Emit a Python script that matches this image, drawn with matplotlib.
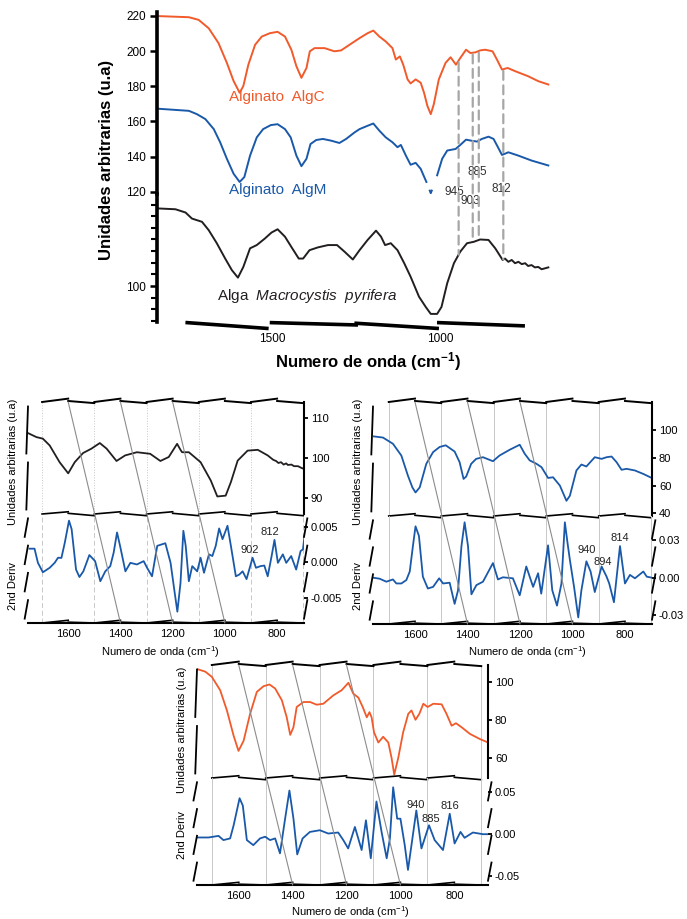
import numpy as np
import matplotlib

matplotlib.use("Agg")
import matplotlib.pyplot as plt
from matplotlib.patches import ConnectionPatch
from matplotlib.ticker import FormatStrFormatter

plt.rcParams["font.family"] = ["Liberation Sans", "DejaVu Sans"]
plt.rcParams["mathtext.fontset"] = "custom"
plt.rcParams["mathtext.rm"] = "Liberation Sans"
plt.rcParams["mathtext.it"] = "Liberation Sans:italic"
plt.rcParams["mathtext.bf"] = "Liberation Sans:bold"
plt.rcParams["axes.unicode_minus"] = False

W, H = 687, 919
RED = "#f15a2b"
BLUE = "#1a59a9"
BLACK = "#231f20"
GRID = "#c8c8c8"
DIAG = "#8c8c8c"
nan = np.nan

# --------------------------------------------------------------------------- #
# Data
# --------------------------------------------------------------------------- #
# top overview panel
top_red_wn = [1847, 1748, 1719, 1689, 1660, 1635, 1615, 1597, 1586, 1571, 1551, 1531, 1507, 1484,
              1462, 1443, 1428, 1413, 1398, 1388, 1374, 1344, 1315, 1295, 1270, 1240, 1216, 1199,
              1181, 1162, 1142, 1132, 1120, 1110, 1097, 1088, 1073, 1058, 1048, 1038, 1028, 1019,
              1004, 984, 969, 953, 940, 923, 910, 895, 881, 866, 844, 831, 816, 799, 777, 738,
              708, 678]
top_red = [220, 219.3, 217.8, 213, 204.6, 193.3, 183, 176.3, 180.1, 192.3, 203.6, 208.3, 210.2, 211,
           208.3, 200.8, 191.4, 184.8, 190.4, 199.9, 201.7, 201.7, 199.9, 200.4, 203.6, 207.4, 210.2,
           211.7, 208.3, 205.5, 201.7, 195.2, 197, 192.3, 183.9, 181.6, 183.9, 182, 176.3, 168.8,
           164.1, 169.7, 183.9, 193.3, 196.5, 192.3, 196.1, 200.8, 198.9, 199.3, 200.4, 200.8,
           199.9, 195.2, 189.5, 190.4, 188.6, 185.7, 182.9, 181]

# the AlgM trace is interrupted around 1035 cm-1 in the original figure
top_blue_wn = [1847, 1748, 1724, 1699, 1674, 1655, 1635, 1615, 1597, 1583, 1566, 1546, 1527, 1504,
               1484, 1462, 1445, 1428, 1413, 1398, 1386, 1369, 1349, 1324, 1300, 1280, 1255, 1240,
               1216, 1199, 1181, 1162, 1142, 1127, 1117, 1102, 1088, 1073, 1058, 1041, 1036, 1031,
               1028, 1025, 1016, 1009, 994, 979, 954, 940, 923, 907, 890, 876, 856, 841, 828, 816,
               797, 767, 728, 678]
top_blue = [167.3, 166, 164.1, 161.3, 155.6, 148.1, 138.7, 130.2, 125.5, 128.3, 140.5, 150.9, 155.6,
            157.9, 158.4, 155.6, 150.9, 140.5, 134.5, 138.7, 147.1, 149.4, 150, 149, 147.7, 150,
            153.7, 155.6, 157.5, 158.8, 154.7, 150.9, 148.1, 145.3, 146.6, 140.5, 135.3, 136.4, 133,
            125.5, nan, 120.6, 119.1, 120.6, nan, 129.3, 138.7, 143.4, 144.3, 146.6, 149.6, 149,
            148.5, 150, 151.3, 150, 145.3, 140.9, 142.4, 140.5, 137.7, 134.9]

top_black_wn = [1847, 1788, 1758, 1739, 1709, 1689, 1665, 1640, 1620, 1602, 1586, 1566, 1546, 1522,
                1502, 1484, 1462, 1443, 1421, 1408, 1389, 1364, 1334, 1307, 1285, 1260, 1240, 1216,
                1191, 1176, 1164, 1147, 1127, 1107, 1088, 1063, 1043, 1028, 1009, 996, 979, 959, 940,
                920, 900, 881, 856, 836, 814, 807, 797, 787, 777, 767, 757, 747, 738, 728, 718, 708,
                698, 688, 678]
top_black = [116.7, 116.5, 115.8, 114.5, 113.8, 112, 109.2, 105.9, 103.4, 101.8, 104.1, 108.1, 108.8,
             110.2, 111.5, 112.2, 110.6, 108.4, 105.9, 105.9, 107.7, 108.3, 108.8, 108.8, 107.4,
             105.7, 107.7, 109.9, 111.9, 110.6, 108.8, 109.2, 107.7, 104.9, 102, 97.7, 95.5, 94, 94,
             95.5, 100.6, 104.9, 107.4, 109.2, 109.5, 110, 109.9, 108.1, 105.6, 105.9, 105.2, 105.6,
             104.9, 105.2, 104.7, 104.9, 104.3, 104.5, 104, 104.1, 103.6, 103.8, 104]

top_peaks = [945, 903, 885, 812]

# alga panel (left)
alga_wn = [1754, 1722, 1697, 1671, 1633, 1600, 1575, 1543, 1511, 1479, 1453, 1415, 1382, 1337, 1286,
           1247, 1215, 1183, 1170, 1164, 1138, 1093, 1054, 1029, 997, 977, 951, 913, 874, 836, 815,
           804, 795, 785, 775, 765, 759, 745, 735, 720, 708, 697]
alga = [106.2, 105.2, 104.8, 103.1, 98.9, 96.1, 98.9, 101.2, 102.3, 103.7, 102.3, 99.2, 100.6, 101.4,
        101, 99.2, 100.2, 103.5, 102, 101.4, 101.4, 98.9, 94.3, 90.3, 90.5, 93.9, 99.3, 101.8, 102,
        100.6, 99.5, 99.2, 98.7, 98.9, 98.3, 98.6, 98.2, 98.3, 97.9, 97.9, 97.5, 97.2]
alga_d2_wn = [1748, 1729, 1716, 1697, 1671, 1652, 1639, 1626, 1613, 1597, 1587, 1570, 1557, 1542, 1519,
              1497, 1477, 1458, 1439, 1426, 1413, 1400, 1381, 1362, 1337, 1311, 1298, 1279, 1259, 1228,
              1208, 1192, 1182, 1170, 1159, 1150, 1138, 1125, 1106, 1093, 1080, 1061, 1048, 1035, 1022,
              1009, 990, 977, 958, 945, 932, 917, 894, 881, 864, 849, 836, 821, 810, 797, 778, 765,
              746, 727, 710, 701, 695]
alga_d2 = [1.9, 1.9, -0.1, -1.43, -0.8, -0.1, 0.62, 0.6, 2.76, 5.86, 4.67, -1.05, -2.1, -1.3, 1.0,
           0.14, -2.7, -1.3, -0.57, 1.33, 4.19, 2.05, -1.3, -0.1, -0.33, 0.14, -0.8, -2.0, 2.3, 2.67,
           -0.1, -4.38, -7.0, -2.95, 4.43, 2.28, -2.7, -0.57, -1.3, 0.62, -1.5, 1.1, 0.86, 2.3, 4.76,
           3.24, 5.14, 2.3, -2.0, -1.76, -1.3, -2.4, 0.62, -0.8, -0.57, -0.48, -2.0, 0.86, 3.14, -0.1,
           1.1, -0.1, 0.86, -1.05, 1.57, 1.8, 3.7]
alga_peaks = [(904, 1.67, "902"), (827, 4.24, "812")]

# AlgM panel (right)
algm_wn = [1760, 1722, 1684, 1652, 1627, 1610, 1598, 1582, 1557, 1531, 1506, 1483, 1449, 1430, 1415,
           1405, 1386, 1367, 1341, 1303, 1278, 1239, 1201, 1182, 1163, 1137, 1118, 1093, 1074, 1048,
           1023, 1010, 985, 966, 947, 915, 889, 870, 851, 832, 813, 794, 762, 730, 698]
algm = [95.6, 94.7, 90.2, 81.7, 67.2, 58.7, 55, 58.7, 75.7, 84.2, 87.9, 89.1, 84.6, 76.9, 64.8,
        66.5, 75.7, 79.3, 80.5, 77.6, 81.7, 85.9, 89.5, 83, 78.2, 75.7, 73.3, 65.5, 66, 60,
        49, 52.6, 70.9, 75.2, 73.8, 80.5, 79.3, 80.5, 81, 76.9, 71.4, 72.1, 70.9, 68.4, 65.5]
algm_d2_wn = [1760, 1735, 1709, 1684, 1671, 1652, 1633, 1620, 1608, 1598, 1585, 1570, 1551, 1531,
              1508, 1493, 1468, 1449, 1436, 1423, 1411, 1398, 1385, 1366, 1341, 1303, 1284, 1265,
              1227, 1201, 1176, 1150, 1131, 1119, 1093, 1077, 1059, 1042, 1029, 1019, 1010, 994,
              978, 966, 947, 931, 915, 889, 870, 860, 842, 819, 800, 781, 762, 730, 717, 698]
algm_d2 = [0, -0.8, -3.2, -1.4, -4.6, -4.6, -1.9, 4.9, 25, 40.8, 33.2, 0.8, -8.6, -7.3,
           -0.5, -4.6, -4, -20.8, -10, 25.1, 44, 25.1, -13.2, -5.9, -3.2, 11.6, -1.4, 0.3,
           -0.5, -14, 8.9, -7.3, 3.5, -12.7, 25.7, -10, -22.2, -4.6, 44, 27.8, 14.3, -7.3,
           -31.6, -10, 13, 4.9, -11.4, 8.9, 0.8, -4.6, -19.5, 25.1, -4.6, 2.2, -0.5, 4.9, 0.8, 0]
algm_peaks = [(945, 21.7, "940"), (884, 12.8, "894"), (819, 31.5, "814")]

# AlgC panel (bottom)
algc_wn = [1755, 1724, 1700, 1669, 1644, 1619, 1601, 1582, 1558, 1533, 1508, 1486, 1465, 1440, 1422,
           1409, 1397, 1385, 1360, 1335, 1311, 1286, 1249, 1218, 1193, 1175, 1156, 1140, 1125, 1115,
           1107, 1098, 1082, 1064, 1045, 1033, 1023, 1008, 990, 971, 959, 944, 930, 915, 899, 878,
           847, 829, 810, 794, 773, 742, 705, 675]
algc = [106.7, 105.3, 102.6, 95.6, 85, 71.7, 63.8, 69.1, 83.2, 94.7, 97.7, 98.6, 96.5, 90.3, 81.4,
        72.2, 76.2, 86.8, 89.4, 89.4, 88, 88.5, 92.9, 95.6, 99.5, 93.8, 91.7, 86.8, 81.4, 84.1,
        81.4, 73.5, 68.2, 71.2, 68.2, 60.2, 51.4, 60.2, 73.5, 83.2, 85, 80.1, 83.2, 88.5, 86.8, 88.5,
        88.2, 83.2, 77, 78.3, 76.2, 72.7, 70, 68.2]
algc_d2_wn = [1755, 1712, 1675, 1657, 1632, 1619, 1597, 1585, 1570, 1546, 1521, 1502, 1484, 1465,
              1447, 1428, 1412, 1397, 1383, 1363, 1336, 1299, 1268, 1231, 1212, 1194, 1169, 1144,
              1128, 1110, 1089, 1070, 1051, 1039, 1027, 1012, 1000, 984, 972, 959, 941, 922, 894,
              873, 842, 817, 799, 777, 762, 731, 694, 675]
algc_d2 = [-3.9, -3.9, -2, -7, -5, 10.6, 42.7, 34, -7, -13, -5, -3, -7, -5,
           -22.7, 18.4, 51.8, 18.4, -24, -5, 2.7, 4.7, 0.8, 2, -7, -16.9, 8.6, -18.8,
           16.5, -28.6, 38.8, 2.7, -28.6, -5, 55.7, 18.4, 18.4, -13, -42.4, -13, 28.2, -16.9, 10.6,
           -7, -18.8, 24.3, -11, 2.7, -4.3, 2, 0, 0]
algc_peaks = [(943, 34.1, "940"), (886, 18.5, "885"), (816, 32.9, "816")]

grid_wn = [1700, 1500, 1300, 1100, 900, 700]
xtick_wn = [1600, 1400, 1200, 1000, 800]
diag_pairs = [(1600, 1400), (1400, 1200), (1200, 1000)]


# --------------------------------------------------------------------------- #
# Helpers
# --------------------------------------------------------------------------- #
fig = plt.figure(figsize=(W / 100, H / 100), dpi=100)


def box(l, t, r, b):
    return fig.add_axes([l / W, 1 - b / H, (r - l) / W, (b - t) / H])


def ftext(x, y, s, **kw):
    return fig.text(x / W, 1 - y / H, s, **kw)


def jag(ax, y0, up, down, lw=1.4):
    """sawtooth frame pieces between the grid lines (axes-fraction y)."""
    tr = ax.get_xaxis_transform()
    for i in range(len(grid_wn) * 2 - 2):
        a = grid_wn[0] - 100 * i
        b = a - 100
        if i % 2 == 0:
            ax.plot([a, b], [y0, y0 + up], color="black", lw=lw, transform=tr, clip_on=False)
        else:
            ax.plot([a, b], [y0 + up * 0.3, y0 - down], color="black", lw=lw, transform=tr,
                    clip_on=False)


def side_pieces(ax, x, n=4, dx=0.012):
    for i in range(n):
        y0 = i / n + 0.04
        y1 = (i + 1) / n - 0.04
        ax.plot([x - dx, x], [y0, y1], color="black", lw=1.3, transform=ax.transAxes,
                clip_on=False)


def small_panel(l, r, t, m, b, xlim, wn, spec, color, ylim, yticks, yfmt,
                dwn, d2, dylim, dticks, dfmt, peaks, dashed):
    ax = box(l, t, r, m)
    axd = box(l, m, r, b)
    for a in (ax, axd):
        a.set_xlim(*xlim)
        a.set_facecolor("none")
        for s in ("top", "bottom", "left"):
            a.spines[s].set_visible(False)
        a.yaxis.tick_right()
        a.tick_params(axis="y", labelsize=8, length=3, width=1.3, pad=2, direction="out")
    ls_top = ":" if dashed else "-"
    ls_bot = (0, (5, 3)) if dashed else "-"
    for g in grid_wn:
        ax.axvline(g, color=GRID, lw=0.7, ls=ls_top, zorder=0)
        axd.axvline(g, color=GRID, lw=0.7, ls=ls_bot, zorder=0)

    ax.plot(wn, spec, color=color, lw=1.3)
    ax.set_ylim(*ylim)
    ax.set_yticks(yticks)
    ax.yaxis.set_major_formatter(FormatStrFormatter(yfmt))
    ax.set_xticks([])
    ax.spines["right"].set_linewidth(1.5)
    side_pieces(ax, 0.0, n=2, dx=0.006)

    axd.plot(dwn, np.array(d2) * 1e-3, color=BLUE, lw=1.3)
    axd.set_ylim(*dylim)
    axd.set_yticks(dticks)
    axd.yaxis.set_major_formatter(FormatStrFormatter(dfmt))
    axd.spines["right"].set_visible(False)
    axd.spines["bottom"].set_visible(True)
    axd.spines["bottom"].set_linewidth(1.5)
    axd.set_xticks(xtick_wn)
    axd.tick_params(axis="x", length=0, labelsize=8, pad=4)
    for x, y, s in peaks:
        axd.text(x, y * 1e-3, s, fontsize=8, ha="center", va="center", color="#222222")

    # broken frame pieces
    jag(ax, 1.0, 0.03, 0.01)
    jag(ax, 0.0, 0.02, 0.015, lw=1.2)
    jag(axd, 0.0, 0.025, 0.0, lw=1.2)
    side_pieces(axd, 0.0)
    side_pieces(axd, 1.0 + 0.012)

    for x_top, x_bot in diag_pairs:
        con = ConnectionPatch(xyA=(x_top, 1), coordsA=ax.get_xaxis_transform(),
                              xyB=(x_bot, 0), coordsB=axd.get_xaxis_transform(),
                              color=DIAG, lw=0.8, zorder=1)
        fig.add_artist(con)
    return ax, axd


# --------------------------------------------------------------------------- #
# Top overview panel
# --------------------------------------------------------------------------- #
ax_hi = box(157, 11.6, 550, 194.1)
ax_lo = box(157, 194.1, 550, 322)
for a in (ax_hi, ax_lo):
    a.set_xlim(1843, 673)
    a.set_facecolor("none")
    for s in ("top", "right", "bottom"):
        a.spines[s].set_visible(False)
    a.spines["left"].set_linewidth(2.6)
    a.tick_params(axis="y", direction="out", length=5, width=1.8, labelsize=8.5, pad=3)
ax_hi.set_xticks([])
ax_hi.set_ylim(118.6, 222.5)
ax_hi.set_yticks([120, 140, 160, 180, 200, 220])
ax_lo.set_ylim(92.26, 119.76)
ax_lo.set_yticks([100])
ax_lo.set_yticks(np.arange(92.5, 119, 2.5), minor=True)
ax_lo.tick_params(axis="y", which="minor", length=4, width=1.5)
ax_lo.set_xticks([1500, 1000])
ax_lo.tick_params(axis="x", length=0, labelsize=8.5, pad=8)

ax_hi.plot(top_red_wn, top_red, color=RED, lw=1.4)
ax_hi.plot(top_blue_wn, top_blue, color=BLUE, lw=1.4)
ax_lo.plot(top_black_wn, top_black, color=BLACK, lw=1.4)

red_at = np.interp(top_peaks, top_red_wn[::-1], top_red[::-1])
black_at = np.interp(top_peaks, top_black_wn[::-1], top_black[::-1])
for p, y1, y2 in zip(top_peaks, red_at, black_at):
    con = ConnectionPatch(xyA=(p, y1 - 1), coordsA="data", axesA=ax_hi,
                          xyB=(p, y2), coordsB="data", axesB=ax_lo,
                          color="#a6a6a6", lw=1.6, ls=(0, (4, 2.5)), zorder=1)
    fig.add_artist(con)
for x, y, s in [(959, 120.2, "945"), (909, 118.3, "903"), (888, 124.5, "885"), (817, 120.8, "812")]:
    ax_lo.text(x, y, s, fontsize=8.5, ha="center", va="center", color="#333333")

ax_hi.text(1486, 173.7, "Alginato  AlgC", color=RED, fontsize=11, ha="center", va="center")
ax_hi.text(1483, 120.8, "Alginato  AlgM", color=BLUE, fontsize=11, ha="center", va="center")
ax_lo.text(1396, 97.85, "Alga  $Macrocystis$  $pyrifera$", color=BLACK, fontsize=11,
           ha="center", va="center")

# broken x-axis pieces under the overview
tr = ax_lo.get_xaxis_transform()
for (a, b), (ya, yb) in zip([(1753, 1516), (1502, 1250), (1250, 1009), (1004, 753)],
                            [(-0.005, -0.05), (-0.005, -0.023), (-0.01, -0.05), (-0.005, -0.03)]):
    ax_lo.plot([a, b], [ya, yb], color="black", lw=2.6, transform=tr, clip_on=False)

ftext(107, 160, "Unidades arbitrarias (u.a)", rotation=90, fontsize=12, fontweight="bold",
      ha="center", va="center")
ftext(368, 362, "Numero de onda (cm$^{\\mathbf{-1}}$)", fontsize=12, fontweight="bold",
      ha="center", va="center")

# --------------------------------------------------------------------------- #
# Detail panels
# --------------------------------------------------------------------------- #
small_panel(28, 304, 402, 514, 623, (1754, 697), alga_wn, alga, BLACK, (85.9, 114.0),
            [90, 100, 110], "%d", alga_d2_wn, alga_d2, (-0.0086, 0.0068),
            [-0.005, 0, 0.005], "%.3f", alga_peaks, dashed=True)
small_panel(373, 652, 402, 516, 624, (1760, 697), algm_wn, algm, BLUE, (38, 120.4),
            [40, 60, 80, 100], "%d", algm_d2_wn, algm_d2, (-0.0368, 0.049),
            [-0.03, 0, 0.03], "%.2f", algm_peaks, dashed=False)
small_panel(197, 488, 665, 778, 885, (1755, 675), algc_wn, algc, RED, (49.6, 108.8),
            [60, 80, 100], "%d", algc_d2_wn, algc_d2, (-0.0603, 0.0667),
            [-0.05, 0, 0.05], "%.2f", algc_peaks, dashed=False)

for x, y1, y2, xl, yl in [(13, 462, 586, 160, 652), (358, 462, 586, 527, 652),
                          (182, 730, 835, 350, 912)]:
    ftext(x, y1, "Unidades arbitrarias (u.a)", rotation=90, fontsize=8, ha="center", va="center")
    ftext(x, y2, "2nd Deriv", rotation=90, fontsize=8, ha="center", va="center")
    ftext(xl, yl, "Numero de onda (cm$^{-1}$)", fontsize=8, ha="center", va="center")

fig.savefig("out.png", dpi=100)
